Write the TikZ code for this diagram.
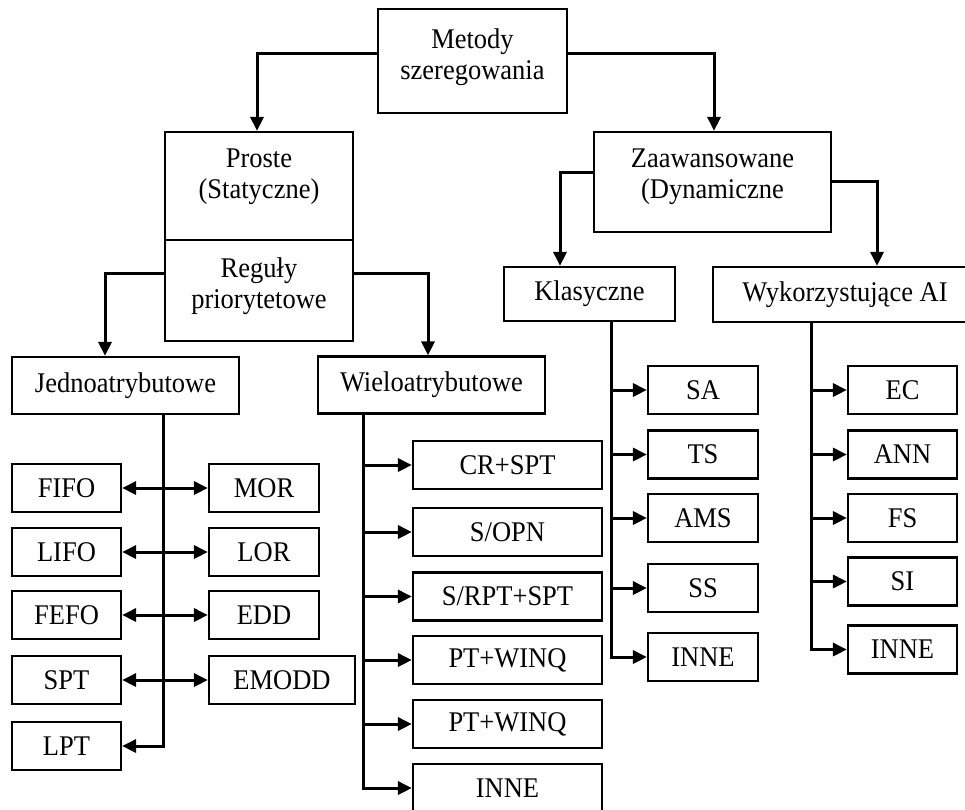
\documentclass[tikz,border=0pt]{standalone}
\usepackage{fontspec}
\setmainfont{Liberation Serif}[FakeStretch=0.93]
\usetikzlibrary{arrows.meta,calc}
\begin{document}
\begin{tikzpicture}[x=1pt,y=-1pt,
  box/.style={draw, line width=2.2pt, minimum height=48pt, inner sep=0pt, font=\fontsize{28.5}{31}\selectfont},
  lbl/.style={align=center, inner sep=0pt, font=\fontsize{28.5}{31}\selectfont},
  conn/.style={line width=3pt, -{Triangle[length=14pt,width=13pt]}},
  bi/.style={line width=3pt, {Triangle[length=14pt,width=13pt]}-{Triangle[length=14pt,width=13pt]}}]
\useasboundingbox (0,0) rectangle (965,809);
% top levels
\node[box, minimum width=189pt, minimum height=104pt] (met) at (472.5,61) {};
\node[lbl] (metT) at (472.5,57) {Metody\\szeregowania};
\node[box, minimum width=188pt, minimum height=108pt] (pro) at (259,186) {};
\node[lbl] (proT) at (259,177) {Proste\\(Statyczne)};
\node[box, minimum width=188pt, minimum height=101pt] (reg) at (259,290.5) {};
\node[lbl] (regT) at (259,286) {Reguły\\priorytetowe};
\node[box, minimum width=237pt, minimum height=100pt] (zaa) at (712.5,182) {};
\node[lbl] (zaaT) at (712.5,177) {Zaawansowane\\(Dynamiczne};
% second level
\node[box, minimum width=227pt, minimum height=57pt] (jed) at (125.5,385.5) {Jednoatrybutowe};
\node[box, minimum width=227pt, minimum height=57pt] (wie) at (431.5,385) {Wieloatrybutowe};
\node[box, minimum width=171pt, minimum height=54pt] (kla) at (589.5,294) {Klasyczne};
\node[box, minimum width=264pt, minimum height=55pt] (wyk) at (845,294.5) {Wykorzystujące AI};
% single attribute
\node[box, minimum width=109pt] (fifo) at (66.5,488) {FIFO};
\node[box, minimum width=109pt] (lifo) at (66.5,552) {LIFO};
\node[box, minimum width=109pt] (fefo) at (66.5,615) {FEFO};
\node[box, minimum width=109pt] (spt) at (66.5,680) {SPT};
\node[box, minimum width=109pt] (lpt) at (66.5,746) {LPT};
\node[box, minimum width=110pt] (mor) at (264,488) {MOR};
\node[box, minimum width=110pt] (lor) at (264,552) {LOR};
\node[box, minimum width=110pt] (edd) at (264,615) {EDD};
\node[box, minimum width=146pt] (emodd) at (282,680) {EMODD};
% multi attribute
\node[box, minimum width=189pt] (crspt) at (507.5,465) {CR+SPT};
\node[box, minimum width=189pt] (sopn) at (507.5,532) {S/OPN};
\node[box, minimum width=189pt] (srpt) at (507.5,596.5) {S/RPT+SPT};
\node[box, minimum width=189pt] (pta) at (507.5,660) {PT+WINQ};
\node[box, minimum width=189pt] (ptb) at (507.5,724) {PT+WINQ};
\node[box, minimum width=189pt] (innea) at (507.5,788) {INNE};
% classic
\node[box, minimum width=110pt] (sa) at (703,390) {SA};
\node[box, minimum width=110pt] (ts) at (703,454.5) {TS};
\node[box, minimum width=110pt] (ams) at (703,518) {AMS};
\node[box, minimum width=110pt] (ss) at (703,588) {SS};
\node[box, minimum width=110pt] (inneb) at (703,657) {INNE};
% AI
\node[box, minimum width=109pt] (ec) at (902.5,390) {EC};
\node[box, minimum width=109pt] (ann) at (902.5,454.5) {ANN};
\node[box, minimum width=109pt] (fs) at (902.5,518) {FS};
\node[box, minimum width=109pt] (si) at (902.5,581.5) {SI};
\node[box, minimum width=109pt] (innec) at (902.5,649.5) {INNE};
% trunk coordinates
\coordinate (jv) at ($(jed.south)+(37.5,0)$);
\coordinate (wv) at ($(wie.south)+(-68.5,0)$);
\coordinate (kv) at ($(kla.south)+(21.5,0)$);
\coordinate (yv) at ($(wyk.south)+(-34,0)$);
% top connectors
\draw[conn] ([yshift=8pt]met.west) -| ([xshift=-2pt]pro.north);
\draw[conn] ([yshift=8pt]met.east) -| ([xshift=1.5pt]zaa.north);
\draw[conn] ([yshift=10pt]zaa.west) -| ([xshift=-29.5pt]kla.north);
\draw[conn] ([yshift=1pt]zaa.east) -| ([xshift=32pt]wyk.north);
\draw[conn] ([yshift=17.5pt]reg.west) -| ([xshift=-20.5pt]jed.north);
\draw[conn] ([yshift=17.5pt]reg.east) -| ([xshift=-3.5pt]wie.north);
% single attribute
\draw[conn] (jv) |- (lpt.east);
\draw[bi] (fifo.east) -- (mor.west);
\draw[bi] (lifo.east) -- (lor.west);
\draw[bi] (fefo.east) -- (edd.west);
\draw[bi] (spt.east) -- (emodd.west);
% multi attribute
\draw[conn] (wv) |- (innea.west);
\foreach \n in {crspt,sopn,srpt,pta,ptb} \draw[conn] (wv |- \n.west) -- (\n.west);
% classic
\draw[conn] (kv) |- (inneb.west);
\foreach \n in {sa,ts,ams,ss} \draw[conn] (kv |- \n.west) -- (\n.west);
% AI
\draw[conn] (yv) |- (innec.west);
\foreach \n in {ec,ann,fs,si} \draw[conn] (yv |- \n.west) -- (\n.west);
\end{tikzpicture}
\end{document}
